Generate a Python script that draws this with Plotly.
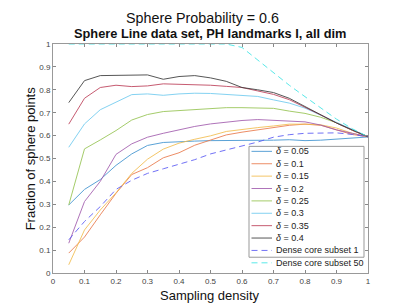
import plotly.graph_objects as go

x_vals = [0.05, 0.1, 0.15, 0.2, 0.25, 0.3, 0.35, 0.4, 0.45, 0.5,
          0.55, 0.6, 0.65, 0.7, 0.75, 0.8, 0.85, 0.9, 0.95, 1.0]

d005 = [0.297, 0.365, 0.408, 0.47, 0.52, 0.557, 0.57, 0.574, 0.576, 0.578,
        0.578, 0.578, 0.577, 0.58, 0.582, 0.578, 0.58, 0.585, 0.588, 0.594]
d010 = [0.087, 0.157, 0.254, 0.348, 0.43, 0.46, 0.503, 0.525, 0.558, 0.581,
        0.603, 0.615, 0.625, 0.635, 0.645, 0.65, 0.645, 0.625, 0.605, 0.595]
d015 = [0.036, 0.188, 0.275, 0.35, 0.435, 0.497, 0.541, 0.567, 0.584, 0.599,
        0.618, 0.628, 0.635, 0.642, 0.65, 0.65, 0.647, 0.633, 0.61, 0.595]
d020 = [0.13, 0.312, 0.40, 0.518, 0.564, 0.593, 0.61, 0.625, 0.64, 0.651,
        0.66, 0.666, 0.67, 0.667, 0.664, 0.66, 0.646, 0.625, 0.61, 0.595]
d025 = [0.297, 0.542, 0.581, 0.622, 0.668, 0.692, 0.705, 0.71, 0.715, 0.72,
        0.722, 0.722, 0.722, 0.719, 0.707, 0.697, 0.68, 0.656, 0.623, 0.595]
d030 = [0.549, 0.651, 0.713, 0.745, 0.779, 0.782, 0.776, 0.782, 0.785, 0.784,
        0.78, 0.778, 0.771, 0.756, 0.742, 0.72, 0.69, 0.66, 0.627, 0.595]
d035 = [0.65, 0.763, 0.81, 0.82, 0.814, 0.817, 0.826, 0.825, 0.822, 0.82,
        0.815, 0.81, 0.795, 0.78, 0.757, 0.725, 0.69, 0.655, 0.623, 0.595]
d040 = [0.744, 0.84, 0.862, 0.862, 0.865, 0.865, 0.846, 0.858, 0.862, 0.852,
        0.837, 0.81, 0.80, 0.788, 0.763, 0.727, 0.69, 0.655, 0.625, 0.595]
core1 = [0.145, 0.225, 0.29, 0.365, 0.405, 0.435, 0.455, 0.475, 0.495, 0.52,
         0.537, 0.552, 0.572, 0.593, 0.604, 0.61, 0.612, 0.612, 0.605, 0.595]
core50 = [1.0, 1.0, 1.0, 1.0, 1.0, 1.0, 1.0, 1.0, 1.0, 1.0,
          1.0, 0.985, 0.93, 0.875, 0.82, 0.77, 0.72, 0.672, 0.63, 0.595]

series = [d005, d010, d015, d020, d025, d030, d035, d040, core1, core50]
names = ["<i>δ</i> = 0.05", "<i>δ</i> = 0.1", "<i>δ</i> = 0.15", "<i>δ</i> = 0.2",
         "<i>δ</i> = 0.25", "<i>δ</i> = 0.3", "<i>δ</i> = 0.35", "<i>δ</i> = 0.4",
         "Dense core subset 1", "Dense core subset 50"]
colors = ["#3f93d0", "#ea7a4c", "#f3bd4e", "#a25cae", "#96c452",
          "#6fcbf0", "#bd3f59", "#3a3a3a", "#5a5af5", "#3ee6e6"]
dashes = ["solid"] * 8 + ["6px,4px", "6px,4px"]
tick_vals = [0, 0.1, 0.2, 0.3, 0.4, 0.5, 0.6, 0.7, 0.8, 0.9, 1]
tick_text = ["0", "0.1", "0.2", "0.3", "0.4", "0.5", "0.6", "0.7", "0.8", "0.9", "1"]

FONT = "Liberation Sans, Arial, Helvetica, sans-serif"

# The page body has an 8px default margin, so the figure is drawn 8px in
# from the window's top-left corner; size and place everything accordingly.
OFF = 8
FIG_W, FIG_H = 407 - OFF, 305 - OFF
# plot-area geometry in window pixels
L, R, T, B = 53, 368, 44, 273.3
PW, PH = R - L, B - T


def px_x(p):
    return (p - L) / PW


def px_y(p):
    return (B - p) / PH


fig = go.Figure()
for ys, nm, c, d in zip(series, names, colors, dashes):
    fig.add_trace(go.Scatter(x=x_vals, y=ys, mode="lines", name=nm,
                             line=dict(color=c, width=1, dash=d),
                             opacity=0.85, showlegend=False))

# manual legend (MATLAB-style compact box)
fig.add_shape(type="rect", xref="paper", yref="paper", x0=px_x(249), x1=px_x(364),
              y0=px_y(257.5), y1=px_y(146.5), line=dict(color="#999999", width=1),
              fillcolor="white", layer="above")
for i, (nm, c, d) in enumerate(zip(names, colors, dashes)):
    yy = px_y(151.5 + 12.4 * i)
    fig.add_shape(type="line", xref="paper", yref="paper", x0=px_x(251.5), x1=px_x(272),
                  y0=yy, y1=yy, line=dict(color=c, width=1, dash=d), opacity=0.85,
                  layer="above")
    fig.add_annotation(xref="paper", yref="paper", x=px_x(274), y=yy, text=nm,
                       showarrow=False, xanchor="left", yanchor="middle",
                       font=dict(family=FONT, size=9, color="#222222"))

fig.add_annotation(xref="paper", yref="paper", x=px_x(202), y=px_y(17.5),
                   text="Sphere Probability = 0.6", showarrow=False,
                   xanchor="center", yanchor="middle",
                   font=dict(family=FONT, size=14.3, color="#111111"))
fig.add_annotation(xref="paper", yref="paper", x=px_x(210), y=px_y(33),
                   text="<b>Sphere Line data set, PH landmarks I, all dim</b>", showarrow=False,
                   xanchor="center", yanchor="middle",
                   font=dict(family=FONT, size=12.8, color="#111111"))
fig.add_annotation(xref="paper", yref="paper", x=px_x(209.5), y=px_y(295.5),
                   text="Sampling density", showarrow=False,
                   xanchor="center", yanchor="middle",
                   font=dict(family=FONT, size=13, color="#111111"))
fig.add_annotation(xref="paper", yref="paper", x=px_x(30), y=px_y(158.5),
                   text="Fraction of sphere points", showarrow=False, textangle=-90,
                   xanchor="center", yanchor="middle",
                   font=dict(family=FONT, size=13, color="#111111"))

axis_common = dict(range=[0, 1], tickvals=tick_vals, ticktext=tick_text,
                   ticks="inside", ticklen=3, tickcolor="#888888", mirror="ticks",
                   showline=True, linecolor="#999999", linewidth=1,
                   showgrid=False, zeroline=False, automargin=False,
                   tickfont=dict(family=FONT, size=8, color="#444444"))

fig.update_layout(
    template="none",
    width=FIG_W, height=FIG_H,
    margin=dict(l=L - OFF, r=407 - R, t=T - OFF, b=305 - B, pad=0, autoexpand=False),
    paper_bgcolor="white", plot_bgcolor="white",
    font=dict(family=FONT),
    showlegend=False,
    xaxis=dict(**axis_common),
    yaxis=dict(**axis_common),
)

fig.write_html("out.html")
